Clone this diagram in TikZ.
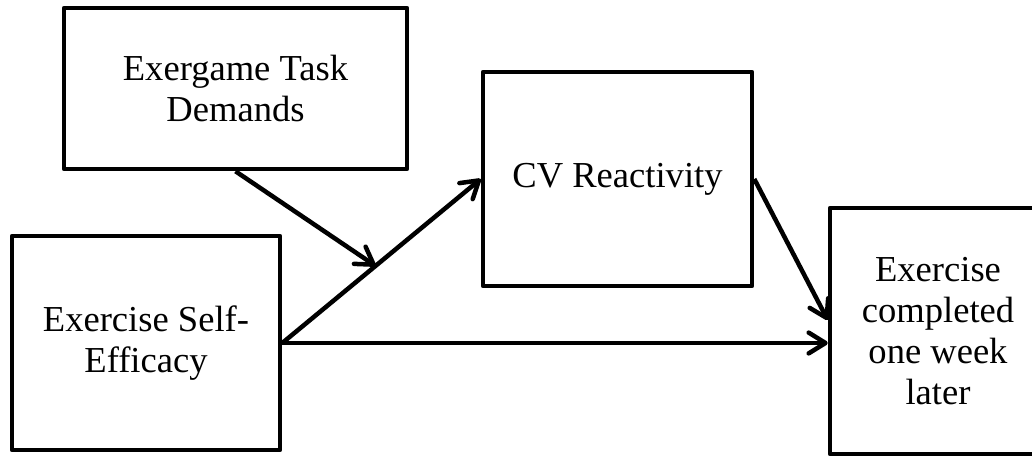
\documentclass[tikz,border=0pt]{standalone}
\usepackage{fontspec}
\setmainfont{Liberation Serif}
\usepackage{tikz}
\usetikzlibrary{arrows.meta, calc, positioning}
\tikzset{
Box/.style={
	draw, rectangle,
	align=center,
	line width=3.2pt,
	line join=round,
	font=\fontsize{26}{29}\selectfont
},
Edge/.style={
	draw=black,
	line width=3.2pt,
	-{Straight Barb[length=0.42cm, width=0.52cm, round]}
}
}

\begin{document}
\begin{tikzpicture}[x=0.025cm, y=-0.025cm]
	\useasboundingbox (0,0) rectangle (1032,457);
	\clip (0,0) rectangle (1032,457);

	\node[Box, minimum width=8.575cm, minimum height=4.025cm] (Task) at (235.5,88.5) {Exergame Task\\Demands};
	\node[Box, minimum width=6.725cm, minimum height=5.35cm] (CV) at (617.5,179) {CV Reactivity};
	\node[Box, minimum width=6.7cm, minimum height=5.35cm] (Efficacy) at (146,343) {Exercise Self-\\Efficacy};
	\node[Box, minimum width=5.4cm, minimum height=6.15cm] (Outcome) at (938,331) {Exercise\\completed\\one week\\later};

	\draw[Edge] (Efficacy.east) -- (CV.west);
	\draw[Edge] (Efficacy.east) -- (Efficacy.east -| Outcome.west);
	\draw[Edge] (CV.east) -- ([yshift=0.275cm]Outcome.west);
	\draw[Edge] (Task.south) -- ($(Efficacy.east)!0.47!(CV.west)$);
\end{tikzpicture}
\end{document}
